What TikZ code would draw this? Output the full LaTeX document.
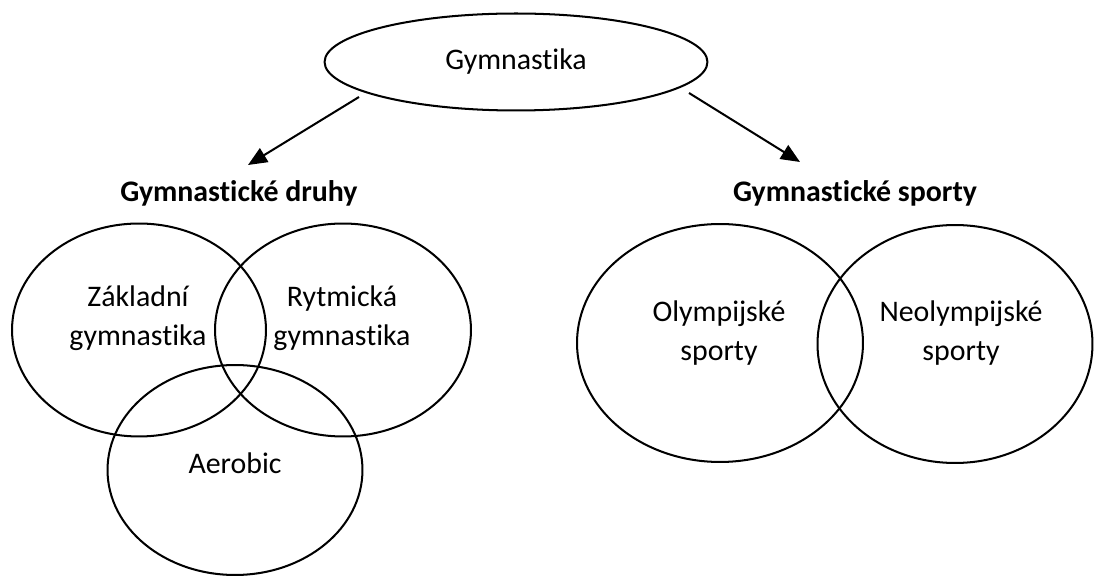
\documentclass[tikz,border=0pt]{standalone}
\usepackage{fontspec}
\setmainfont{Carlito}[Ligatures=NoCommon]
\usetikzlibrary{shapes.geometric,arrows.meta,positioning}

\begin{document}
\begin{tikzpicture}[x=0.02cm,y=-0.02cm,
    oval/.style={ellipse,draw,line width=1.15pt,inner sep=0pt},
    word/.style={align=center,font=\fontsize{17}{22.5}\selectfont},
    head/.style={font=\fontsize{17}{20}\selectfont\bfseries},
    arr/.style={-{Triangle[length=0.38cm,width=0.32cm]},line width=1.15pt}]
      \useasboundingbox (0,0) rectangle (1096,577);
      \node[oval,word,minimum width=7.66cm,minimum height=1.94cm] (gym) at (516,62) {Gymnastika};
      \node[head] (druhy) at (239,193) {Gymnastické druhy};
      \node[head] (sporty) at (855,193) {Gymnastické sporty};
      \coordinate (gymsw) at (359,97);
      \coordinate (gymse) at (689,93);
      \coordinate (druhytip) at (248,165);
      \coordinate (sportytip) at (800,162);
      \draw[arr] (gymsw) -- (druhytip);
      \draw[arr] (gymse) -- (sportytip);
      \node[oval,minimum width=5.08cm,minimum height=4.26cm] (zakl) at (139,330) {};
      \node[oval,minimum width=5.12cm,minimum height=4.26cm] (rytm) at (343,330) {};
      \node[oval,minimum width=5.1cm,minimum height=4.2cm] (aero) at (235,470) {};
      \node[word] (zakltxt) at (138,318) {Základní\\gymnastika};
      \node[word] (rytmtxt) at (342,318) {Rytmická\\gymnastika};
      \node[word] (aerotxt) at (235,463) {Aerobic};
      \node[oval,minimum width=5.72cm,minimum height=4.76cm] (olymp) at (720,343) {};
      \node[oval,minimum width=5.5cm,minimum height=4.76cm] (neol) at (955,344) {};
      \node[word] (olymptxt) at (719,333) {Olympijské\\sporty};
      \node[word] (neoltxt) at (961,333) {Neolympijské\\sporty};
\end{tikzpicture}
\end{document}
